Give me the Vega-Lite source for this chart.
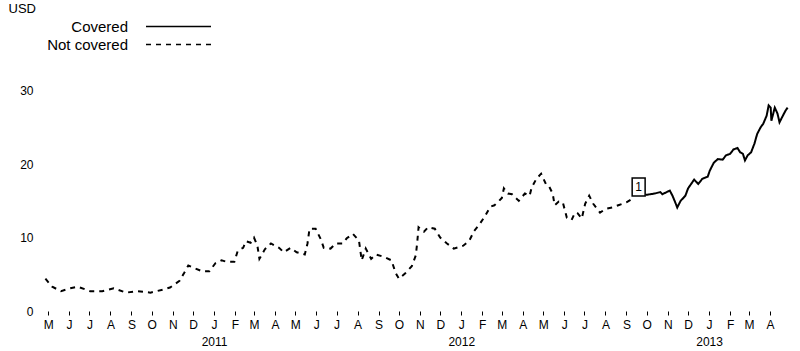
{
  "$schema": "https://vega.github.io/schema/vega-lite/v6.json",
  "width": 750,
  "height": 257,
  "autosize": {"type": "none"},
  "padding": {"left": 40, "top": 54, "right": 10, "bottom": 40},
  "background": "white",
  "config": {"view": {"stroke": null}, "font": "Liberation Sans"},
  "datasets": {
    "prices": [
      {"date": "2010-04-27", "value": 4.4, "series": "Not covered"},
      {"date": "2010-05-07", "value": 3.3, "series": "Not covered"},
      {"date": "2010-05-20", "value": 2.7, "series": "Not covered"},
      {"date": "2010-06-03", "value": 3.1, "series": "Not covered"},
      {"date": "2010-06-14", "value": 3.3, "series": "Not covered"},
      {"date": "2010-07-02", "value": 2.7, "series": "Not covered"},
      {"date": "2010-07-20", "value": 2.7, "series": "Not covered"},
      {"date": "2010-08-06", "value": 3.1, "series": "Not covered"},
      {"date": "2010-08-24", "value": 2.5, "series": "Not covered"},
      {"date": "2010-09-10", "value": 2.7, "series": "Not covered"},
      {"date": "2010-09-29", "value": 2.5, "series": "Not covered"},
      {"date": "2010-10-17", "value": 2.9, "series": "Not covered"},
      {"date": "2010-10-28", "value": 3.2, "series": "Not covered"},
      {"date": "2010-11-11", "value": 4.1, "series": "Not covered"},
      {"date": "2010-11-18", "value": 5.2, "series": "Not covered"},
      {"date": "2010-11-24", "value": 6.2, "series": "Not covered"},
      {"date": "2010-12-04", "value": 5.8, "series": "Not covered"},
      {"date": "2010-12-15", "value": 5.4, "series": "Not covered"},
      {"date": "2010-12-25", "value": 5.4, "series": "Not covered"},
      {"date": "2011-01-03", "value": 6.5, "series": "Not covered"},
      {"date": "2011-01-12", "value": 6.9, "series": "Not covered"},
      {"date": "2011-01-20", "value": 6.7, "series": "Not covered"},
      {"date": "2011-01-31", "value": 6.7, "series": "Not covered"},
      {"date": "2011-02-05", "value": 8.2, "series": "Not covered"},
      {"date": "2011-02-13", "value": 8.6, "series": "Not covered"},
      {"date": "2011-02-17", "value": 9.5, "series": "Not covered"},
      {"date": "2011-02-24", "value": 9.3, "series": "Not covered"},
      {"date": "2011-03-01", "value": 10.0, "series": "Not covered"},
      {"date": "2011-03-06", "value": 8.9, "series": "Not covered"},
      {"date": "2011-03-09", "value": 7.1, "series": "Not covered"},
      {"date": "2011-03-17", "value": 8.4, "series": "Not covered"},
      {"date": "2011-03-26", "value": 9.2, "series": "Not covered"},
      {"date": "2011-04-07", "value": 8.6, "series": "Not covered"},
      {"date": "2011-04-14", "value": 8.0, "series": "Not covered"},
      {"date": "2011-04-24", "value": 8.6, "series": "Not covered"},
      {"date": "2011-05-03", "value": 8.0, "series": "Not covered"},
      {"date": "2011-05-15", "value": 7.7, "series": "Not covered"},
      {"date": "2011-05-19", "value": 9.2, "series": "Not covered"},
      {"date": "2011-05-22", "value": 11.2, "series": "Not covered"},
      {"date": "2011-05-31", "value": 11.2, "series": "Not covered"},
      {"date": "2011-06-08", "value": 9.7, "series": "Not covered"},
      {"date": "2011-06-12", "value": 8.6, "series": "Not covered"},
      {"date": "2011-06-22", "value": 8.5, "series": "Not covered"},
      {"date": "2011-06-30", "value": 9.2, "series": "Not covered"},
      {"date": "2011-07-10", "value": 9.2, "series": "Not covered"},
      {"date": "2011-07-16", "value": 9.9, "series": "Not covered"},
      {"date": "2011-07-25", "value": 10.5, "series": "Not covered"},
      {"date": "2011-08-03", "value": 9.6, "series": "Not covered"},
      {"date": "2011-08-06", "value": 7.6, "series": "Not covered"},
      {"date": "2011-08-07", "value": 6.9, "series": "Not covered"},
      {"date": "2011-08-13", "value": 8.5, "series": "Not covered"},
      {"date": "2011-08-21", "value": 7.1, "series": "Not covered"},
      {"date": "2011-08-28", "value": 7.7, "series": "Not covered"},
      {"date": "2011-09-08", "value": 7.4, "series": "Not covered"},
      {"date": "2011-09-20", "value": 6.9, "series": "Not covered"},
      {"date": "2011-09-26", "value": 5.2, "series": "Not covered"},
      {"date": "2011-10-01", "value": 4.4, "series": "Not covered"},
      {"date": "2011-10-10", "value": 5.1, "series": "Not covered"},
      {"date": "2011-10-20", "value": 6.1, "series": "Not covered"},
      {"date": "2011-10-26", "value": 7.6, "series": "Not covered"},
      {"date": "2011-10-28", "value": 9.3, "series": "Not covered"},
      {"date": "2011-10-30", "value": 11.4, "series": "Not covered"},
      {"date": "2011-11-07", "value": 10.8, "series": "Not covered"},
      {"date": "2011-11-13", "value": 11.4, "series": "Not covered"},
      {"date": "2011-11-23", "value": 11.2, "series": "Not covered"},
      {"date": "2011-12-01", "value": 10.0, "series": "Not covered"},
      {"date": "2011-12-11", "value": 9.2, "series": "Not covered"},
      {"date": "2011-12-21", "value": 8.5, "series": "Not covered"},
      {"date": "2012-01-04", "value": 8.9, "series": "Not covered"},
      {"date": "2012-01-13", "value": 9.6, "series": "Not covered"},
      {"date": "2012-01-20", "value": 10.9, "series": "Not covered"},
      {"date": "2012-01-28", "value": 11.8, "series": "Not covered"},
      {"date": "2012-02-05", "value": 12.9, "series": "Not covered"},
      {"date": "2012-02-13", "value": 14.2, "series": "Not covered"},
      {"date": "2012-02-19", "value": 14.4, "series": "Not covered"},
      {"date": "2012-02-26", "value": 15.0, "series": "Not covered"},
      {"date": "2012-03-01", "value": 15.4, "series": "Not covered"},
      {"date": "2012-03-04", "value": 16.7, "series": "Not covered"},
      {"date": "2012-03-10", "value": 16.0, "series": "Not covered"},
      {"date": "2012-03-16", "value": 15.9, "series": "Not covered"},
      {"date": "2012-03-26", "value": 15.0, "series": "Not covered"},
      {"date": "2012-04-04", "value": 16.0, "series": "Not covered"},
      {"date": "2012-04-11", "value": 15.7, "series": "Not covered"},
      {"date": "2012-04-14", "value": 16.8, "series": "Not covered"},
      {"date": "2012-04-21", "value": 18.0, "series": "Not covered"},
      {"date": "2012-04-28", "value": 18.7, "series": "Not covered"},
      {"date": "2012-05-05", "value": 17.3, "series": "Not covered"},
      {"date": "2012-05-09", "value": 17.1, "series": "Not covered"},
      {"date": "2012-05-15", "value": 16.0, "series": "Not covered"},
      {"date": "2012-05-18", "value": 14.4, "series": "Not covered"},
      {"date": "2012-05-24", "value": 14.9, "series": "Not covered"},
      {"date": "2012-05-30", "value": 14.8, "series": "Not covered"},
      {"date": "2012-06-05", "value": 12.7, "series": "Not covered"},
      {"date": "2012-06-12", "value": 12.4, "series": "Not covered"},
      {"date": "2012-06-17", "value": 13.4, "series": "Not covered"},
      {"date": "2012-06-21", "value": 13.3, "series": "Not covered"},
      {"date": "2012-06-27", "value": 12.6, "series": "Not covered"},
      {"date": "2012-07-02", "value": 14.6, "series": "Not covered"},
      {"date": "2012-07-08", "value": 15.7, "series": "Not covered"},
      {"date": "2012-07-14", "value": 14.6, "series": "Not covered"},
      {"date": "2012-07-24", "value": 13.4, "series": "Not covered"},
      {"date": "2012-08-01", "value": 13.9, "series": "Not covered"},
      {"date": "2012-08-11", "value": 14.1, "series": "Not covered"},
      {"date": "2012-08-20", "value": 14.4, "series": "Not covered"},
      {"date": "2012-09-01", "value": 14.8, "series": "Not covered"},
      {"date": "2012-09-08", "value": 15.2, "series": "Not covered"},
      {"date": "2012-09-29", "value": 15.8, "series": "Covered"},
      {"date": "2012-10-06", "value": 15.9, "series": "Covered"},
      {"date": "2012-10-13", "value": 16.0, "series": "Covered"},
      {"date": "2012-10-21", "value": 16.2, "series": "Covered"},
      {"date": "2012-10-24", "value": 15.9, "series": "Covered"},
      {"date": "2012-11-04", "value": 16.4, "series": "Covered"},
      {"date": "2012-11-08", "value": 15.7, "series": "Covered"},
      {"date": "2012-11-12", "value": 14.8, "series": "Covered"},
      {"date": "2012-11-15", "value": 14.1, "series": "Covered"},
      {"date": "2012-11-20", "value": 15.0, "series": "Covered"},
      {"date": "2012-11-27", "value": 15.7, "series": "Covered"},
      {"date": "2012-12-01", "value": 16.7, "series": "Covered"},
      {"date": "2012-12-07", "value": 17.5, "series": "Covered"},
      {"date": "2012-12-10", "value": 17.9, "series": "Covered"},
      {"date": "2012-12-16", "value": 17.3, "series": "Covered"},
      {"date": "2012-12-22", "value": 18.0, "series": "Covered"},
      {"date": "2012-12-30", "value": 18.3, "series": "Covered"},
      {"date": "2013-01-02", "value": 19.1, "series": "Covered"},
      {"date": "2013-01-08", "value": 20.2, "series": "Covered"},
      {"date": "2013-01-14", "value": 20.7, "series": "Covered"},
      {"date": "2013-01-21", "value": 20.6, "series": "Covered"},
      {"date": "2013-01-26", "value": 21.2, "series": "Covered"},
      {"date": "2013-02-01", "value": 21.4, "series": "Covered"},
      {"date": "2013-02-06", "value": 22.0, "series": "Covered"},
      {"date": "2013-02-12", "value": 22.2, "series": "Covered"},
      {"date": "2013-02-16", "value": 21.6, "series": "Covered"},
      {"date": "2013-02-20", "value": 21.4, "series": "Covered"},
      {"date": "2013-02-23", "value": 20.5, "series": "Covered"},
      {"date": "2013-02-27", "value": 21.2, "series": "Covered"},
      {"date": "2013-03-04", "value": 21.6, "series": "Covered"},
      {"date": "2013-03-09", "value": 22.8, "series": "Covered"},
      {"date": "2013-03-13", "value": 24.1, "series": "Covered"},
      {"date": "2013-03-18", "value": 25.0, "series": "Covered"},
      {"date": "2013-03-22", "value": 25.5, "series": "Covered"},
      {"date": "2013-03-27", "value": 26.6, "series": "Covered"},
      {"date": "2013-03-30", "value": 28.0, "series": "Covered"},
      {"date": "2013-04-02", "value": 27.7, "series": "Covered"},
      {"date": "2013-04-03", "value": 25.9, "series": "Covered"},
      {"date": "2013-04-08", "value": 27.7, "series": "Covered"},
      {"date": "2013-04-12", "value": 26.9, "series": "Covered"},
      {"date": "2013-04-15", "value": 25.7, "series": "Covered"},
      {"date": "2013-04-20", "value": 26.6, "series": "Covered"},
      {"date": "2013-04-24", "value": 27.3, "series": "Covered"},
      {"date": "2013-04-27", "value": 27.7, "series": "Covered"}
    ],
    "notes": [{"date": "2012-09-19", "value": 16.9, "label": "1"}]
  },
  "layer": [
    {
      "data": {"name": "prices"},
      "mark": {"type": "line", "strokeWidth": 2, "color": "black"},
      "encoding": {
        "x": {
          "field": "date",
          "type": "temporal",
          "scale": {
            "type": "utc",
            "domain": [
              {"year": 2010, "month": 4, "date": 19, "utc": true},
              {"year": 2013, "month": 4, "date": 30, "hours": 12, "utc": true}
            ]
          },
          "axis": {
            "title": null,
            "domain": false,
            "grid": false,
            "tickCount": {"interval": "month", "step": 1},
            "tickSize": 4,
            "tickColor": "black",
            "labelExpr": "utcmonth(datum.value) == 0 ? [slice(utcFormat(datum.value, '%b'), 0, 1), utcFormat(datum.value, '%Y')] : slice(utcFormat(datum.value, '%b'), 0, 1)",
            "labelFontSize": 12,
            "labelColor": "black",
            "labelPadding": 4,
            "labelLineHeight": 17,
            "labelOverlap": false,
            "labelFlush": false
          }
        },
        "y": {
          "field": "value",
          "type": "quantitative",
          "scale": {"domain": [0, 35]},
          "axis": {
            "title": "USD",
            "titleAngle": 0,
            "titleAlign": "left",
            "titleBaseline": "top",
            "titleX": -32,
            "titleY": -52,
            "titleFontSize": 13,
            "titleFontWeight": "normal",
            "titleColor": "black",
            "values": [0, 10, 20, 30],
            "domain": false,
            "ticks": false,
            "grid": false,
            "labelPadding": 7,
            "labelFontSize": 12,
            "labelColor": "black"
          }
        },
        "strokeDash": {
          "field": "series",
          "type": "nominal",
          "scale": {"domain": ["Covered", "Not covered"], "range": [[1, 0], [5, 5]]},
          "legend": {
            "title": null,
            "orient": "none",
            "legendX": 131,
            "legendY": -35,
            "symbolType": "M-5,0L5,0",
            "symbolSize": 169,
            "symbolStrokeWidth": 1.5,
            "symbolStrokeColor": "black",
            "labelAlign": "right",
            "labelOffset": -58,
            "labelFontSize": 15,
            "labelColor": "black",
            "rowPadding": 2
          }
        }
      }
    },
    {
      "data": {"name": "notes"},
      "mark": {"type": "point", "shape": "M-0.72,-1L0.72,-1L0.72,1L-0.72,1Z", "size": 324, "filled": true, "fill": "white", "stroke": "black", "strokeWidth": 1.5, "opacity": 1},
      "encoding": {
        "x": {"field": "date", "type": "temporal"},
        "y": {"field": "value", "type": "quantitative"}
      }
    },
    {
      "data": {"name": "notes"},
      "mark": {"type": "text", "fontSize": 12, "color": "black", "align": "center", "baseline": "middle"},
      "encoding": {
        "x": {"field": "date", "type": "temporal"},
        "y": {"field": "value", "type": "quantitative"},
        "text": {"field": "label"}
      }
    }
  ]
}
